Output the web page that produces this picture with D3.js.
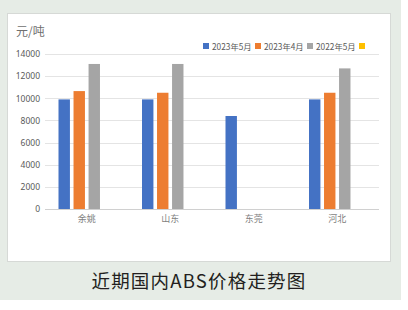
<!DOCTYPE html>
<html>
<head>
<meta charset="utf-8">
<script src="https://cdn.jsdelivr.net/npm/d3@7"></script>
<style>
  body { margin: 0; background: #fff; }
  text { font-family: "Noto Sans CJK SC", "Noto Sans", sans-serif; }
</style>
</head>
<body>
<div id="chart"></div>
<script>
      var W = 408, H = 310;

      var categories = ['余姚', '山东', '东莞', '河北'];
      var seriesNames = ['2023年5月', '2023年4月', '2022年5月', ''];
      var may2023 = [9900, 9900, 8400, 9900];
      var apr2023 = [10650, 10500, null, 10500];
      var may2022 = [13100, 13100, null, 12700];
      var blank = [null, null, null, null];
      var yTicks = [0, 2000, 4000, 6000, 8000, 10000, 12000, 14000];
      var colors = ['#4472C4', '#ED7D31', '#A5A5A5', '#FFC000'];

      var series = [may2023, apr2023, may2022, blank];

      var svg = d3.select('#chart').append('svg')
            .attr('width', W)
            .attr('height', H);

      // outer background and inner panel
      svg.append('rect').attr('x', 0).attr('y', 0).attr('width', 401).attr('height', 300)
         .attr('fill', '#e6ece6');
      svg.append('rect').attr('x', 7.5).attr('y', 13.5).attr('width', 383).attr('height', 248)
         .attr('fill', '#fff').attr('stroke', '#d6d9d6');

      var x = d3.scaleBand()
                .domain(categories)
                .range([45, 379]);

      var xInner = d3.scaleBand()
                .domain(d3.range(series.length))
                .range([13.5, 70])
                .paddingInner(0.24);

      var y = d3.scaleLinear()
                .domain([0, 14000])
                .range([209, 54]);

      // grid lines
      svg.append('g').selectAll('line')
         .data(yTicks)
         .enter().append('line')
         .attr('x1', 45).attr('x2', 379)
         .attr('y1', function(d) { return Math.round(y(d)) + 0.5; })
         .attr('y2', function(d) { return Math.round(y(d)) + 0.5; })
         .attr('stroke', function(d) { return d === 0 ? '#d0d0d0' : '#e4e4e4'; })
         .attr('stroke-width', 1);

      // y axis labels
      var yAxis = d3.axisLeft(y).tickValues(yTicks).tickFormat(d3.format('d'))
                    .tickSize(0).tickPadding(5);
      var gy = svg.append('g')
         .attr('transform', 'translate(45,0)')
         .call(yAxis);
      gy.select('.domain').remove();
      gy.selectAll('text').attr('fill', '#595959').style('font-size', '8.5px')
         .style('font-family', '"Noto Sans", sans-serif');

      // x axis labels
      var xAxis = d3.axisBottom(x).tickSize(0).tickPadding(7);
      var gx = svg.append('g')
         .attr('transform', 'translate(0,209)')
         .call(xAxis);
      gx.select('.domain').remove();
      gx.selectAll('text').attr('fill', '#7f7f7f').style('font-size', '9px')
         .style('font-family', '"Noto Sans CJK SC", sans-serif');

      // bars
      series.forEach(function(vals, si) {
        svg.append('g').selectAll('rect')
           .data(vals.map(function(v, i) { return { cat: categories[i], v: v }; })
                     .filter(function(d) { return d.v != null; }))
           .enter().append('rect')
           .attr('x', function(d) { return x(d.cat) + xInner(si); })
           .attr('y', function(d) { return y(d.v); })
           .attr('width', xInner.bandwidth())
           .attr('height', function(d) { return y(0) - y(d.v); })
           .attr('fill', colors[si]);
      });

      // unit label
      svg.append('text').attr('x', 16).attr('y', 36)
         .attr('fill', '#6f6f6f').style('font-size', '12px')
         .text('元/吨');

      // legend
      var legendX = [203, 255, 307, 359];
      var lg = svg.append('g').selectAll('g')
         .data(seriesNames)
         .enter().append('g')
         .attr('transform', function(d, i) { return 'translate(' + legendX[i] + ',43)'; });
      lg.append('rect').attr('width', 6).attr('height', 6)
         .attr('fill', function(d, i) { return colors[i]; });
      lg.append('text').attr('x', 9).attr('y', 6.5)
         .attr('fill', '#595959').style('font-size', '8.3px')
         .text(function(d) { return d; });

      // caption
      svg.append('text').attr('x', 199).attr('y', 288)
         .attr('text-anchor', 'middle')
         .attr('fill', '#231f20').style('font-size', '18.5px')
         .style('letter-spacing', '1.2px')
         .text('近期国内ABS价格走势图');
</script>
</body>
</html>
